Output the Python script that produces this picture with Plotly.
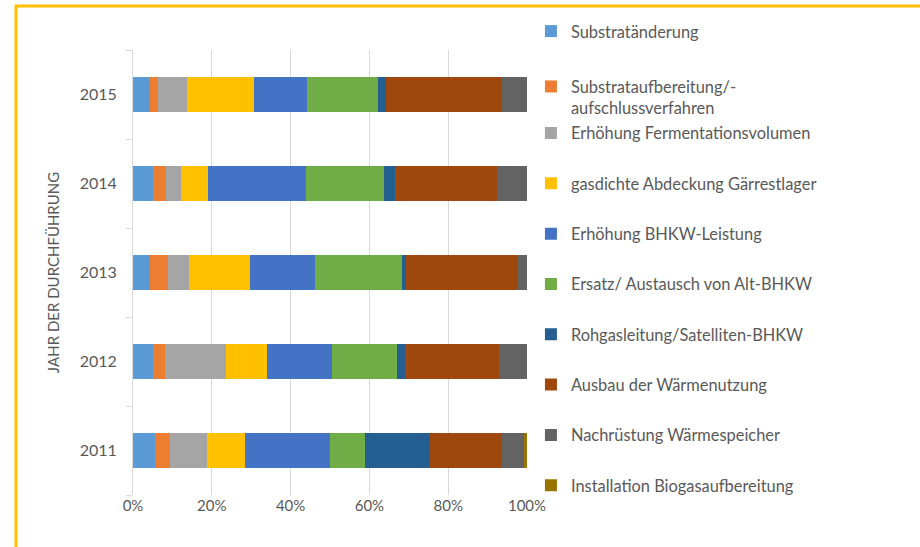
import plotly.graph_objects as go

years = ["2011", "2012", "2013", "2014", "2015"]

substrataenderung = [5.7, 5.2, 4.3, 5.2, 4.2]
substrataufbereitung = [3.6, 3.0, 4.5, 3.3, 2.1]
fermentationsvolumen = [9.4, 15.5, 5.4, 3.6, 7.3]
gaerrestlager = [9.6, 10.3, 15.4, 6.9, 17.0]
bhkw_leistung = [21.6, 16.5, 16.5, 25.0, 13.5]
alt_bhkw = [8.9, 16.6, 22.1, 19.8, 18.1]
rohgasleitung = [16.7, 2.0, 1.1, 2.6, 2.0]
waermenutzung = [18.1, 23.8, 28.5, 25.9, 29.5]
waermespeicher = [5.6, 7.1, 2.2, 7.7, 6.3]
biogasaufbereitung = [0.8, 0.0, 0.0, 0.0, 0.0]

series_names = [
    "Substratänderung",
    "Substrataufbereitung/-<br>aufschlussverfahren",
    "Erhöhung Fermentationsvolumen",
    "gasdichte Abdeckung Gärrestlager",
    "Erhöhung BHKW-Leistung",
    "Ersatz/ Austausch von Alt-BHKW",
    "Rohgasleitung/Satelliten-BHKW",
    "Ausbau der Wärmenutzung",
    "Nachrüstung Wärmespeicher",
    "Installation Biogasaufbereitung",
]
series_values = [
    substrataenderung, substrataufbereitung, fermentationsvolumen, gaerrestlager,
    bhkw_leistung, alt_bhkw, rohgasleitung, waermenutzung, waermespeicher,
    biogasaufbereitung,
]
colors = ["#5B9BD5", "#ED7D31", "#A5A5A5", "#FFC000", "#4472C4",
          "#70AD47", "#255E91", "#9E480E", "#636363", "#997300"]

FONT = "Lato"
GRAY = "#595959"

fig = go.Figure()
for i, (name, vals, col) in enumerate(zip(series_names, series_values, colors)):
    fig.add_trace(go.Bar(
        y=years, x=vals, name=name, orientation="h",
        marker=dict(color=col, line=dict(width=0)),
        legend="legend" if i < 2 else "legend2",
        legendgroup=f"g{i}",
        hovertemplate="%{y}: %{x:.1f}%<extra>" + name + "</extra>",
    ))

legend_common = dict(
    x=1.01, xanchor="left",
    yanchor="top",
    font=dict(family=FONT, size=16.4, color=GRAY),
    bgcolor="rgba(0,0,0,0)",
    valign="top",
    traceorder="grouped",
    itemclick=False,
)

fig.update_layout(
    width=920, height=547,
    paper_bgcolor="white", plot_bgcolor="white",
    margin=dict(l=133, r=393, t=50, b=52),
    barmode="stack",
    bargap=0.6,
    font=dict(family=FONT, size=14, color=GRAY),
    xaxis=dict(
        range=[0, 100], dtick=20, ticksuffix="%",
        showgrid=True, gridcolor="#d9d9d9", gridwidth=1,
        zeroline=False, showline=False,
        tickfont=dict(family=FONT, size=15, color=GRAY),
        fixedrange=True,
    ),
    yaxis=dict(
        categoryorder="array", categoryarray=years,
        showline=True, linecolor="#d9d9d9", linewidth=1,
        ticks="outside", tickson="boundaries", ticklen=6, tickcolor="#d9d9d9",
        tickfont=dict(family=FONT, size=16, color=GRAY),
        ticklabelstandoff=12,
        automargin=False,
        title=dict(text="JAHR DER DURCHFÜHRUNG", standoff=16,
                   font=dict(family=FONT, size=15, color=GRAY)),
        fixedrange=True,
    ),
    legend=dict(legend_common, y=1.081, tracegroupgap=31),
    legend2=dict(legend_common, y=0.852, tracegroupgap=26),
    shapes=[dict(
        type="path", xref="paper", yref="paper",
        path="M -0.297,-1 L -0.297,1.099 L 2,1.099",
        line=dict(color="#FFC000", width=3),
    )],
)

fig.write_html("out.html", config={"displayModeBar": False},
               post_script="document.body.style.margin='0';")
